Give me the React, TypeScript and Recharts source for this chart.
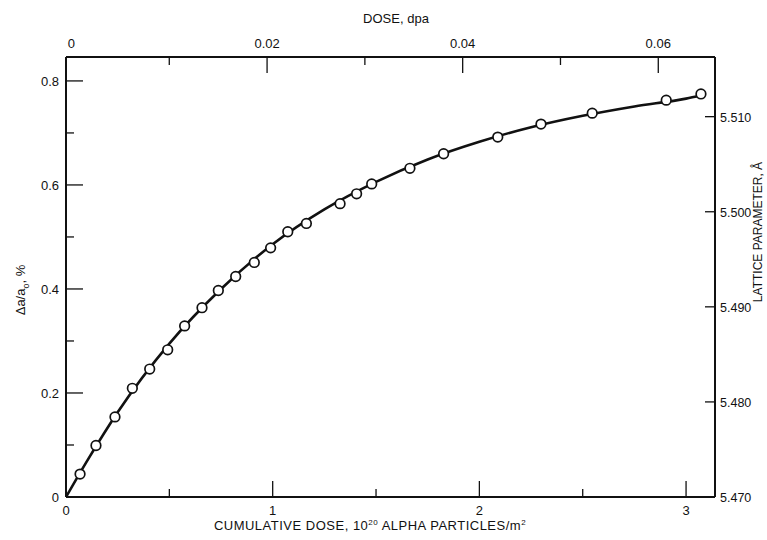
import { ComposedChart, Line, Scatter, XAxis, YAxis } from 'recharts';

// measured points: cumulative dose (1e20 alpha/m2) vs delta a / a0 (%)
const doseX = [0.068, 0.145, 0.237, 0.321, 0.405, 0.492, 0.574, 0.658, 0.737, 0.821, 0.911, 0.99, 1.073, 1.163, 1.326, 1.406, 1.479, 1.664, 1.827, 2.089, 2.298, 2.546, 2.904, 3.072];
const deltaA = [0.044, 0.099, 0.154, 0.209, 0.246, 0.283, 0.329, 0.364, 0.397, 0.424, 0.451, 0.479, 0.51, 0.526, 0.564, 0.583, 0.602, 0.632, 0.66, 0.692, 0.717, 0.738, 0.763, 0.775];

// drawn smooth curve
const curveX = [0, 0.1, 0.25, 0.5, 0.75, 1, 1.25, 1.5, 1.75, 2, 2.25, 2.5, 2.75, 3, 3.072];
const curveY = [0, 0.068, 0.163, 0.295, 0.4, 0.486, 0.553, 0.606, 0.649, 0.683, 0.711, 0.733, 0.751, 0.766, 0.772];

const bottomTicks = [0, 0.5, 1, 1.5, 2, 2.5, 3];
const leftTicks = [0, 0.1, 0.2, 0.3, 0.4, 0.5, 0.6, 0.7, 0.8];
const topTicks = [0, 0.01, 0.02, 0.03, 0.04, 0.05, 0.06];
const rightTicks = [5.47, 5.48, 5.49, 5.5, 5.51];

const points = doseX.map((x, i) => ({ x, y: deltaA[i] }));
const curve = curveX.map((x, i) => ({ x, y: curveY[i] }));

const X_MAX = 3.14;
const Y_MAX = 0.846;
const A0 = 5.47;

const font = { fontFamily: 'Arial, "Liberation Sans", sans-serif', fill: '#111' };

const BottomTick = (p: any) => {
    const v = p.payload.value;
    const major = Number.isInteger(v);
    return (
        <g>
            <line x1={p.x} x2={p.x} y1={p.y} y2={p.y - (major ? 16 : 8)} stroke="#111" strokeWidth={1.3} />
            {major && <text x={p.x} y={p.y + 18} textAnchor="middle" fontSize={13} {...font}>{v}</text>}
        </g>
    );
};

const LeftTick = (p: any) => {
    const v = p.payload.value;
    const major = Math.round(v * 10) % 2 === 0;
    return (
        <g>
            <line x1={p.x} x2={p.x + (major ? 17 : 8)} y1={p.y} y2={p.y} stroke="#111" strokeWidth={1.3} />
            {major && <text x={p.x - 7} y={p.y + 5} textAnchor="end" fontSize={13} {...font}>{v === 0 ? '0' : v.toFixed(1)}</text>}
        </g>
    );
};

const TopTick = (p: any) => {
    const v = p.payload.value;
    const major = Math.round(v * 100) % 2 === 0;
    return (
        <g>
            {v > 0 && <line x1={p.x} x2={p.x} y1={p.y} y2={p.y + (major ? 16 : 8)} stroke="#111" strokeWidth={1.3} />}
            {major && <text x={p.x} y={p.y - 9} textAnchor="middle" fontSize={13} {...font}>{v === 0 ? '0' : v.toFixed(2)}</text>}
        </g>
    );
};

const RightTick = (p: any) => {
    const v = p.payload.value;
    return (
        <g>
            {v > 5.47 && <line x1={p.x} x2={p.x - 10} y1={p.y} y2={p.y} stroke="#111" strokeWidth={1.3} />}
            <text x={p.x + 5} y={p.y + 5} textAnchor="start" fontSize={12.5} {...font}>{v.toFixed(3)}</text>
        </g>
    );
};

const Dot = (p: any) => <circle cx={p.cx} cy={p.cy} r={4.8} fill="#fff" stroke="#111" strokeWidth={1.7} />;

export default function App() {
    return (
        <div style={{ position: 'absolute', left: 0, top: 0, width: 767, height: 540, background: '#fff' }}>
            <ComposedChart width={767} height={540} data={curve} margin={{ top: 0, right: 0, bottom: 0, left: 0 }}>
                <XAxis
                    xAxisId="bottom"
                    type="number"
                    dataKey="x"
                    domain={[0, X_MAX]}
                    allowDataOverflow
                    ticks={bottomTicks}
                    height={43}
                    tickSize={0}
                    tickMargin={0}
                    tick={<BottomTick />}
                    axisLine={{ stroke: '#111', strokeWidth: 2 }}
                    interval={0}
                />
                <XAxis
                    xAxisId="top"
                    orientation="top"
                    type="number"
                    dataKey="x"
                    domain={[-0.00056, 0.0658]}
                    allowDataOverflow
                    ticks={topTicks}
                    height={57}
                    tickSize={0}
                    tickMargin={0}
                    tick={<TopTick />}
                    axisLine={{ stroke: '#111', strokeWidth: 2 }}
                    interval={0}
                />
                <YAxis
                    yAxisId="left"
                    type="number"
                    dataKey="y"
                    domain={[0, Y_MAX]}
                    allowDataOverflow
                    ticks={leftTicks}
                    width={66}
                    tickSize={0}
                    tickMargin={0}
                    tick={<LeftTick />}
                    axisLine={{ stroke: '#111', strokeWidth: 2 }}
                    interval={0}
                />
                <YAxis
                    yAxisId="right"
                    orientation="right"
                    type="number"
                    domain={[A0, A0 * (1 + Y_MAX / 100)]}
                    allowDataOverflow
                    ticks={rightTicks}
                    width={52}
                    tickSize={0}
                    tickMargin={0}
                    tick={<RightTick />}
                    axisLine={{ stroke: '#111', strokeWidth: 2 }}
                    interval={0}
                />
                <Line
                    xAxisId="bottom"
                    yAxisId="left"
                    dataKey="y"
                    type="monotone"
                    stroke="#111"
                    strokeWidth={2.6}
                    dot={false}
                    isAnimationActive={false}
                />
                <Scatter
                    xAxisId="bottom"
                    yAxisId="left"
                    data={points}
                    dataKey="y"
                    shape={<Dot />}
                    isAnimationActive={false}
                />
            </ComposedChart>
            <div style={{ position: 'absolute', left: 0, top: 11, width: 767, textAlign: 'center', paddingLeft: 25, boxSizing: 'border-box', font: '13px Arial, "Liberation Sans", sans-serif', color: '#111' }}>
                DOSE, dpa
            </div>
            <div style={{ position: 'absolute', left: 110, top: 518, width: 520, textAlign: 'center', letterSpacing: 0.5, font: '13px Arial, "Liberation Sans", sans-serif', color: '#111' }}>
                CUMULATIVE DOSE, 10<sup style={{ fontSize: 8 }}>20</sup> ALPHA PARTICLES/m<sup style={{ fontSize: 8 }}>2</sup>
            </div>
            <div style={{ position: 'absolute', left: 22, top: 290, transform: 'translate(-50%, -50%) rotate(-90deg)', whiteSpace: 'nowrap', font: '13px Arial, "Liberation Sans", sans-serif', color: '#111' }}>
                Δa/a<sub style={{ fontSize: 9 }}>o</sub>, %
            </div>
            <div style={{ position: 'absolute', left: 758, top: 232, transform: 'translate(-50%, -50%) rotate(-90deg)', whiteSpace: 'nowrap', font: '12px Arial, "Liberation Sans", sans-serif', color: '#111' }}>
                LATTICE PARAMETER, Å
            </div>
        </div>
    );
}
